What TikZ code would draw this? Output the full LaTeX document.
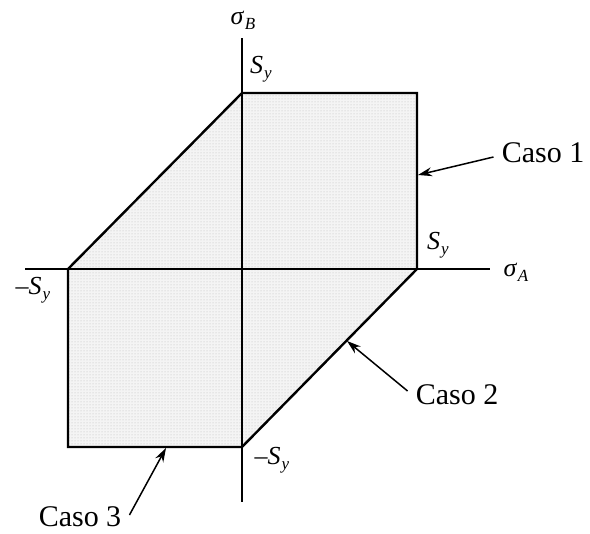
\documentclass[tikz,border=0pt]{standalone}
\usepackage{fontspec}
\setmainfont{Liberation Serif}
\usetikzlibrary{arrows.meta,patterns}
\newcommand{\syv}{\textit{S}\kern1pt\raisebox{-5pt}{\fontsize{17}{18}\selectfont\textit{y}}}
\newcommand{\sigv}[1]{\textit{σ}\kern0.5pt\raisebox{-5pt}{\fontsize{17}{18}\selectfont\textit{#1}}}
\begin{document}
\begin{tikzpicture}[x=1pt,y=1pt,
  edge/.style={line width=2.4pt,line join=miter},
  axis/.style={line width=1.9pt},
  lab/.style={font=\fontsize{30}{32}\selectfont,inner sep=0pt},
  mlab/.style={font=\fontsize{26}{28}\selectfont,inner sep=0pt},
  pointer/.style={line width=1.5pt,-{Stealth[length=14pt,width=9pt]}}]
\useasboundingbox (0,0) rectangle (590,534);
% vertices
\coordinate (T) at (242,441);
\coordinate (TR) at (417,441);
\coordinate (R) at (417,265);
\coordinate (B) at (242,87);
\coordinate (BL) at (68,87);
\coordinate (L) at (68,265);
% shaded region
\fill[gray!9] (T) -- (TR) -- (R) -- (B) -- (BL) -- (L) -- cycle;
\fill[pattern=dots,pattern color=gray!55] (T) -- (TR) -- (R) -- (B) -- (BL) -- (L) -- cycle;
% axes
\coordinate (ytop) at (242,496);
\coordinate (ybot) at (242,32);
\coordinate (xl) at (25,265);
\coordinate (xr) at (490,265);
\draw[axis] (ybot) -- (ytop);
\draw[axis] (xl) -- (xr);
% boundary
\draw[edge] (T) -- (TR) -- (R) -- (B) -- (BL) -- (L) -- cycle;
% labels
\node[mlab] (sb) at (243,514) {\sigv{B}};
\node[mlab] (sa) at (516,262) {\sigv{A}};
\node[mlab] (syt) at (261,465) {\syv};
\node[mlab] (syr) at (438,289) {\syv};
\node[mlab] (syl) at (33,244) {–\syv};
\node[mlab] (syb) at (272,74) {–\syv};
\node[lab] (c1) at (543,381) {Caso 1};
\node[lab] (c2) at (457,139) {Caso 2};
\node[lab] (c3) at (80,17) {Caso 3};
% arrow targets
\coordinate (a1) at (418,359);
\coordinate (a2) at (347,193);
\coordinate (a3) at (166,86);
\draw[pointer] ([xshift=-8pt,yshift=-4pt]c1.west) -- (a1);
\draw[pointer] ([xshift=-8pt,yshift=4pt]c2.west) -- (a2);
\draw[pointer] ([xshift=8pt,yshift=2pt]c3.east) -- (a3);
\end{tikzpicture}
\end{document}
